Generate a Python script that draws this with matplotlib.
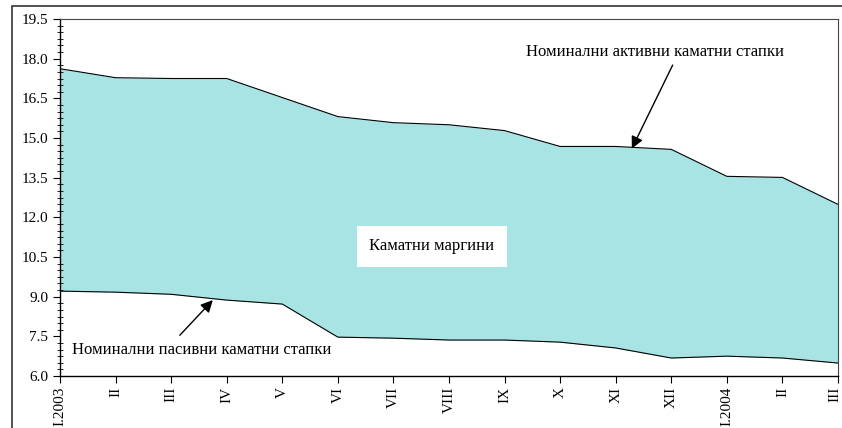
import numpy as np
import matplotlib.pyplot as plt
import matplotlib.transforms as mtransforms
from matplotlib.patches import Rectangle
from matplotlib.ticker import MultipleLocator

plt.rcParams['font.family'] = ['Liberation Serif', 'DejaVu Serif']

months = ['I.2003', 'II', 'III', 'IV', 'V', 'VI', 'VII', 'VIII', 'IX', 'X',
          'XI', 'XII', 'I.2004', 'II', 'III']
# nominal lending (active) and deposit (passive) interest rates
active = [17.62, 17.28, 17.25, 17.25, 16.53, 15.81, 15.58, 15.50, 15.28, 14.68,
          14.68, 14.57, 13.55, 13.51, 12.49]
passive = [9.21, 9.17, 9.09, 8.87, 8.72, 7.47, 7.43, 7.36, 7.36, 7.28,
           7.06, 6.68, 6.75, 6.68, 6.49]

x = np.arange(len(months))

fig = plt.figure(figsize=(8.42, 4.28), dpi=100)
ax = fig.add_axes([60/842, 1 - 376/428, 778/842, 357/428])

# outer frame
fig.patches.append(Rectangle((12/842, -0.1), 1.0, 1.1 - 6/428, transform=fig.transFigure,
                             fill=False, edgecolor='#333333', linewidth=1.2))

ax.fill_between(x, passive, active, color='#A8E4E4', linewidth=0)
ax.plot(x, active, color='black', linewidth=0.8)
ax.plot(x, passive, color='black', linewidth=0.8)

ax.set_xlim(0, len(months) - 1)
ax.set_ylim(6.0, 19.5)
ax.yaxis.set_major_locator(MultipleLocator(1.5))
ax.yaxis.set_minor_locator(MultipleLocator(0.25))
ax.yaxis.set_major_formatter(plt.FormatStrFormatter('%.1f'))
ax.set_xticks(x)
ax.set_xticklabels(months, rotation=90, fontsize=11)
ax.tick_params(axis='y', which='major', labelsize=11, direction='out', length=5, width=0.8)
ax.tick_params(axis='y', which='minor', direction='inout', length=4, width=0.6)
ax.tick_params(axis='x', direction='out', length=5, width=0.8, pad=3)

# nudge the last month label so it stays inside the picture
last = ax.get_xticklabels()[-1]
last.set_transform(last.get_transform() +
                   mtransforms.ScaledTranslation(-3/100, 0, fig.dpi_scale_trans))

for side in ['left', 'bottom']:
    ax.spines[side].set_linewidth(1.0)
for side in ['top', 'right']:
    ax.spines[side].set_linewidth(0.8)
    ax.spines[side].set_color('#444444')

ax.text(6.69, 10.9, 'Каматни маргини', fontsize=12, ha='center', va='center',
        bbox=dict(facecolor='white', edgecolor='none', pad=9))

ax.annotate('Номинални активни каматни стапки', xy=(10.29, 14.6), xytext=(10.7, 18.26),
            fontsize=12, ha='center', va='center',
            arrowprops=dict(arrowstyle='-|>', color='black', lw=1.0, mutation_scale=18,
                            shrinkA=2, shrinkB=0, relpos=(0.58, 0.0)))

ax.annotate('Номинални пасивни каматни стапки', xy=(2.75, 8.87), xytext=(0.22, 6.98),
            fontsize=12, ha='left', va='center',
            arrowprops=dict(arrowstyle='-|>', color='black', lw=1.0, mutation_scale=18,
                            shrinkA=4, shrinkB=0, relpos=(0.39, 1.0)))

fig.savefig('out.png', dpi=100)
